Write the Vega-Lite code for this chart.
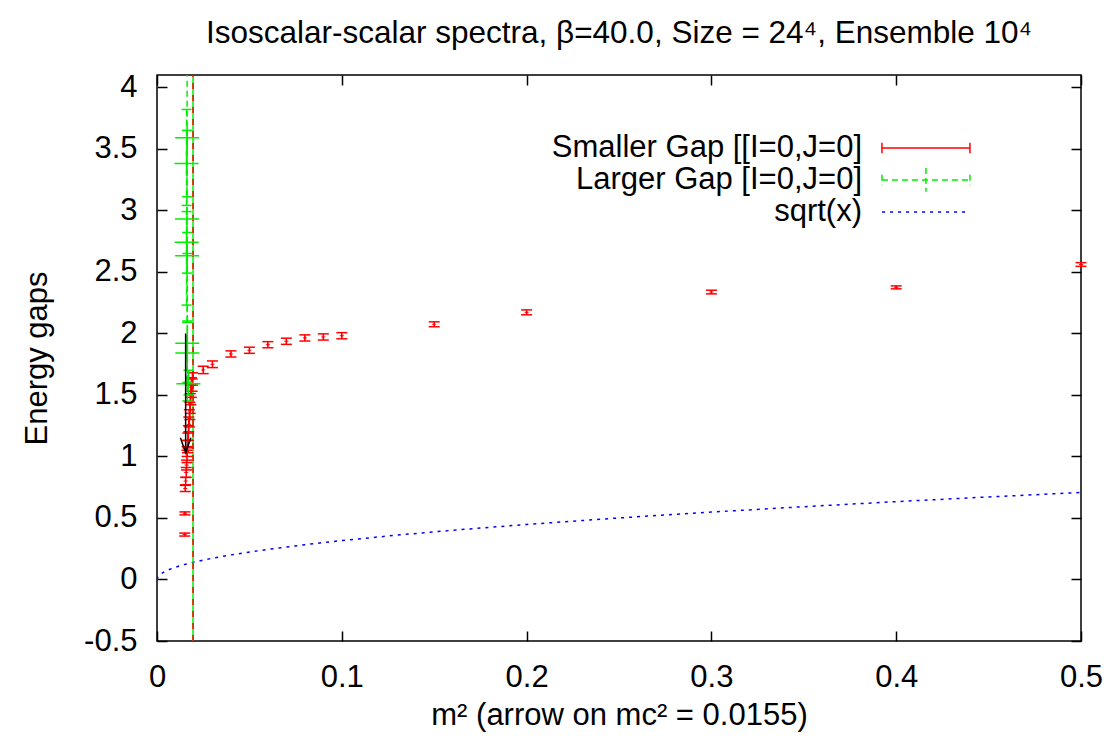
{
"$schema":"https://vega.github.io/schema/vega-lite/v6.json",
"width":924,"height":566,
"autosize":{"type":"none"},
"padding":{"left":157,"top":75,"right":32,"bottom":105},
"background":"white",
"title":{"text":"Isoscalar-scalar spectra, β=40.0, Size = 24⁴, Ensemble 10⁴","font":"Liberation Sans","fontSize":31.5,"fontWeight":"normal","color":"black","anchor":"middle","offset":22},
"config":{
 "font":"Liberation Sans",
 "view":{"stroke":"black","strokeWidth":1.5},
 "axis":{"domain":false,"grid":false,"ticks":true,"tickColor":"black","tickSize":-10,"tickWidth":1.5,"labelFont":"Liberation Sans","labelFontSize":31,"labelColor":"black","labelFlush":false,"labelOverlap":false,"titleFont":"Liberation Sans","titleFontSize":31,"titleFontWeight":"normal","titleColor":"black"}
},
"datasets":{
 "sqrt":[{"x":0,"y":0},{"x":0.0005,"y":0.0224},{"x":0.001,"y":0.0316},{"x":0.002,"y":0.0447},{"x":0.004,"y":0.0632},{"x":0.007,"y":0.0837},{"x":0.01,"y":0.1},{"x":0.015,"y":0.1225},{"x":0.02,"y":0.1414},{"x":0.03,"y":0.1732},{"x":0.04,"y":0.2},{"x":0.06,"y":0.2449},{"x":0.08,"y":0.2828},{"x":0.1,"y":0.3162},{"x":0.13,"y":0.3606},{"x":0.16,"y":0.4},{"x":0.2,"y":0.4472},{"x":0.25,"y":0.5},{"x":0.3,"y":0.5477},{"x":0.35,"y":0.5916},{"x":0.4,"y":0.6325},{"x":0.45,"y":0.6708},{"x":0.5,"y":0.7071}],
 "small":[
  {"x":0.0150,"y":0.365,"lo":0.353,"hi":0.377},
  {"x":0.0151,"y":0.537,"lo":0.525,"hi":0.549},
  {"x":0.0153,"y":0.74,"lo":0.715,"hi":0.765},
  {"x":0.0155,"y":0.80,"lo":0.77,"hi":0.83},
  {"x":0.0158,"y":0.87,"lo":0.83,"hi":0.91},
  {"x":0.0160,"y":0.93,"lo":0.89,"hi":0.97},
  {"x":0.0162,"y":1.00,"lo":0.95,"hi":1.05},
  {"x":0.0163,"y":1.04,"lo":1.0,"hi":1.08},
  {"x":0.0165,"y":1.08,"lo":1.03,"hi":1.13},
  {"x":0.0167,"y":1.13,"lo":1.07,"hi":1.19},
  {"x":0.0170,"y":1.19,"lo":1.13,"hi":1.25},
  {"x":0.0172,"y":1.26,"lo":1.2,"hi":1.32},
  {"x":0.0175,"y":1.31,"lo":1.24,"hi":1.38},
  {"x":0.0178,"y":1.37,"lo":1.3,"hi":1.44},
  {"x":0.0180,"y":1.43,"lo":1.35,"hi":1.51},
  {"x":0.0183,"y":1.50,"lo":1.42,"hi":1.58},
  {"x":0.0186,"y":1.56,"lo":1.48,"hi":1.64},
  {"x":0.0190,"y":1.58,"lo":1.53,"hi":1.63},
  {"x":0.0192,"y":1.63,"lo":1.58,"hi":1.68},
  {"x":0.025,"y":1.703,"lo":1.673,"hi":1.733},
  {"x":0.03,"y":1.749,"lo":1.722,"hi":1.776},
  {"x":0.04,"y":1.833,"lo":1.808,"hi":1.858},
  {"x":0.05,"y":1.863,"lo":1.838,"hi":1.888},
  {"x":0.06,"y":1.908,"lo":1.883,"hi":1.933},
  {"x":0.07,"y":1.936,"lo":1.911,"hi":1.961},
  {"x":0.08,"y":1.963,"lo":1.938,"hi":1.988},
  {"x":0.09,"y":1.971,"lo":1.946,"hi":1.996},
  {"x":0.1,"y":1.981,"lo":1.956,"hi":2.006},
  {"x":0.15,"y":2.074,"lo":2.054,"hi":2.094},
  {"x":0.2,"y":2.171,"lo":2.151,"hi":2.191},
  {"x":0.3,"y":2.336,"lo":2.321,"hi":2.351},
  {"x":0.4,"y":2.374,"lo":2.362,"hi":2.386},
  {"x":0.5,"y":2.56,"lo":2.545,"hi":2.575}
 ],
 "large":[
  {"x":0.0163,"y":3.59,"lo":3.11,"hi":4.2},
  {"x":0.0160,"y":3.38,"lo":3.04,"hi":3.82},
  {"x":0.0162,"y":2.93,"lo":2.49,"hi":3.65},
  {"x":0.0160,"y":2.74,"lo":2.23,"hi":2.99},
  {"x":0.0163,"y":2.63,"lo":2.09,"hi":2.82},
  {"x":0.0164,"y":1.92,"lo":1.45,"hi":2.65},
  {"x":0.0164,"y":1.84,"lo":1.6,"hi":2.1},
  {"x":0.0170,"y":1.59,"lo":1.5,"hi":1.7}
 ],
 "mcline":[{"x":0.0195,"y":-0.5,"y2":4.1}],
 "arrow":[{"x":0.0155,"y":2.0,"y2":1.03}]
},
"layer":[
 {"data":{"name":"sqrt"},"mark":{"type":"line","color":"#0000ff","strokeWidth":1.5,"strokeDash":[3,5],"clip":true},
  "encoding":{
   "x":{"field":"x","type":"quantitative","scale":{"domain":[0,0.5],"nice":false,"zero":false},"axis":{"orient":"bottom","values":[0,0.1,0.2,0.3,0.4,0.5],"labelExpr":"datum.value + ''","labelPadding":31,"title":"m² (arrow on mc² = 0.0155)","titlePadding":8}},
   "y":{"field":"y","type":"quantitative","scale":{"domain":[-0.5,4.1],"nice":false,"zero":false},"axis":{"orient":"left","values":[-0.5,0,0.5,1,1.5,2,2.5,3,3.5,4],"labelExpr":"datum.value + ''","labelPadding":30,"title":"Energy gaps","titlePadding":30}}}},
 {"data":{"name":"mcline"},"mark":{"type":"rule","color":"#00ee00","strokeWidth":1.5},
  "encoding":{
   "x":{"field":"x","type":"quantitative","axis":{"orient":"top","values":[0,0.1,0.2,0.3,0.4,0.5],"labels":false,"title":null}},
   "y":{"field":"y","type":"quantitative","axis":{"orient":"right","values":[-0.5,0,0.5,1,1.5,2,2.5,3,3.5,4],"labels":false,"title":null}},
   "y2":{"field":"y2"}}},
 {"data":{"name":"mcline"},"mark":{"type":"rule","color":"#ff0000","strokeWidth":1.5,"strokeDash":[6,6]},
  "encoding":{"x":{"field":"x","type":"quantitative","axis":null},"y":{"field":"y","type":"quantitative","axis":null},"y2":{"field":"y2"}}},
 {"data":{"name":"small"},"mark":{"type":"rule","color":"#ff0000","strokeWidth":1.5},
  "encoding":{"x":{"field":"x","type":"quantitative","axis":null},"y":{"field":"lo","type":"quantitative","axis":null},"y2":{"field":"hi"}}},
 {"data":{"name":"small"},"mark":{"type":"tick","orient":"horizontal","size":11,"thickness":1.5,"color":"#ff0000","opacity":1},
  "encoding":{"x":{"field":"x","type":"quantitative","axis":null},"y":{"field":"lo","type":"quantitative","axis":null}}},
 {"data":{"name":"small"},"mark":{"type":"tick","orient":"horizontal","size":11,"thickness":1.5,"color":"#ff0000","opacity":1},
  "encoding":{"x":{"field":"x","type":"quantitative","axis":null},"y":{"field":"hi","type":"quantitative","axis":null}}},
 {"data":{"name":"small"},"mark":{"type":"point","shape":"M-1,0L1,0M0,-1L0,1","size":16,"filled":false,"color":"#ff0000","strokeWidth":1,"opacity":1},
  "encoding":{"x":{"field":"x","type":"quantitative","axis":null},"y":{"field":"y","type":"quantitative","axis":null}}},
 {"data":{"name":"large"},"mark":{"type":"rule","color":"#00ee00","strokeWidth":1.5,"strokeDash":[6,4],"clip":true},
  "encoding":{"x":{"field":"x","type":"quantitative","axis":null},"y":{"field":"lo","type":"quantitative","axis":null},"y2":{"field":"hi"}}},
 {"data":{"name":"large"},"mark":{"type":"tick","orient":"horizontal","size":10,"thickness":1.5,"color":"#00ee00","opacity":1,"clip":true},
  "encoding":{"x":{"field":"x","type":"quantitative","axis":null},"y":{"field":"lo","type":"quantitative","axis":null}}},
 {"data":{"name":"large"},"mark":{"type":"tick","orient":"horizontal","size":10,"thickness":1.5,"color":"#00ee00","opacity":1,"clip":true},
  "encoding":{"x":{"field":"x","type":"quantitative","axis":null},"y":{"field":"hi","type":"quantitative","axis":null}}},
 {"data":{"name":"large"},"mark":{"type":"point","shape":"M-1,0L1,0M0,-1L0,1","size":576,"filled":false,"color":"#00ee00","strokeWidth":1.5,"opacity":1,"clip":true},
  "encoding":{"x":{"field":"x","type":"quantitative","axis":null},"y":{"field":"y","type":"quantitative","axis":null}}},
 {"data":{"name":"arrow"},"mark":{"type":"rule","color":"black","strokeWidth":1.5},
  "encoding":{"x":{"field":"x","type":"quantitative","axis":null},"y":{"field":"y","type":"quantitative","axis":null},"y2":{"field":"y2"}}},
 {"data":{"name":"arrow"},"mark":{"type":"point","shape":"M-0.35,-1L0,0L0.35,-1","size":900,"filled":false,"color":"black","strokeWidth":1.5,"opacity":1},
  "encoding":{"x":{"field":"x","type":"quantitative","axis":null},"y":{"field":"y2","type":"quantitative","axis":null}}},
 {"data":{"values":[{"label":"Smaller Gap [[I=0,J=0]"}]},"mark":{"type":"text","align":"right","baseline":"middle","font":"Liberation Sans","fontSize":31,"color":"black"},
  "encoding":{"x":{"datum":0.3815,"type":"quantitative","axis":null},"y":{"datum":3.507,"type":"quantitative","axis":null},"text":{"field":"label"}}},
 {"data":{"values":[{"label":"Larger Gap [I=0,J=0]"}]},"mark":{"type":"text","align":"right","baseline":"middle","font":"Liberation Sans","fontSize":31,"color":"black"},
  "encoding":{"x":{"datum":0.3815,"type":"quantitative","axis":null},"y":{"datum":3.247,"type":"quantitative","axis":null},"text":{"field":"label"}}},
 {"data":{"values":[{"label":"sqrt(x)"}]},"mark":{"type":"text","align":"right","baseline":"middle","font":"Liberation Sans","fontSize":31,"color":"black"},
  "encoding":{"x":{"datum":0.3815,"type":"quantitative","axis":null},"y":{"datum":2.987,"type":"quantitative","axis":null},"text":{"field":"label"}}},
 {"data":{"values":[{"label":"Smaller Gap [[I=0,J=0]"}]},"mark":{"type":"point","shape":"M-1,-0.12L-1,0.12M-1,0L1,0M1,-0.12L1,0.12","size":7744,"filled":false,"color":"#ff0000","strokeWidth":1.5,"opacity":1},
  "encoding":{"x":{"datum":0.4161,"type":"quantitative","axis":null},"y":{"datum":3.507,"type":"quantitative","axis":null}}},
 {"data":{"values":[{"label":"Larger Gap [I=0,J=0]"}]},"mark":{"type":"point","shape":"M-1,-0.12L-1,0.12M-1,0L1,0M1,-0.12L1,0.12M0,-0.27L0,0.27","size":7744,"filled":false,"color":"#00ee00","strokeWidth":1.5,"strokeDash":[6,4],"opacity":1},
  "encoding":{"x":{"datum":0.4161,"type":"quantitative","axis":null},"y":{"datum":3.247,"type":"quantitative","axis":null}}},
 {"data":{"values":[{"label":"sqrt(x)"}]},"mark":{"type":"point","shape":"M-1,0L1,0","size":6889,"filled":false,"color":"#0000ff","strokeWidth":1.5,"strokeDash":[3,5],"opacity":1},
  "encoding":{"x":{"datum":0.4148,"type":"quantitative","axis":null},"y":{"datum":2.987,"type":"quantitative","axis":null}}}
],
"resolve":{"axis":{"x":"independent","y":"independent"}}
}
